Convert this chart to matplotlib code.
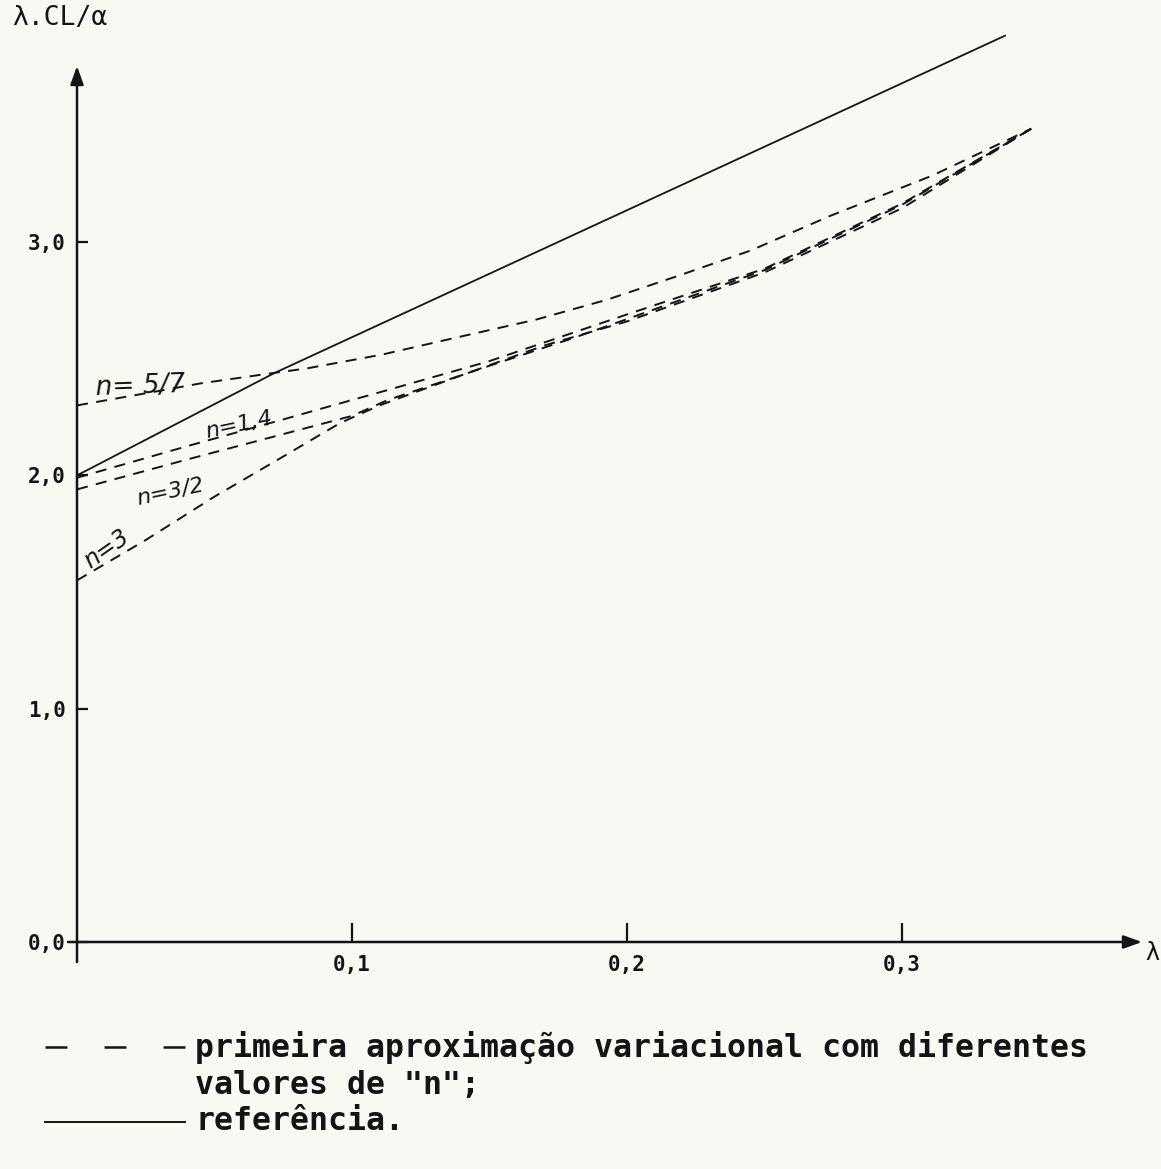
import matplotlib
matplotlib.use("Agg")
import matplotlib.pyplot as plt
from matplotlib.lines import Line2D

plt.rcParams['lines.scale_dashes'] = False

# ---------------- data ----------------
ref_x = [0.0, 0.072, 0.3375]
ref_y = [2.00, 2.44, 3.885]

n57_x = [0.0, 0.0265, 0.0447, 0.072, 0.0833, 0.111, 0.138, 0.167, 0.193, 0.219, 0.245, 0.274, 0.311, 0.347]
n57_y = [2.30, 2.355, 2.394, 2.44, 2.458, 2.518, 2.591, 2.668, 2.754, 2.857, 2.964, 3.113, 3.285, 3.486]

n14_x = [0.0, 0.04, 0.075, 0.09, 0.113, 0.15, 0.18, 0.20, 0.25, 0.30, 0.347]
n14_y = [1.99, 2.125, 2.24, 2.29, 2.366, 2.49, 2.61, 2.69, 2.886, 3.165, 3.486]

n32_x = [0.0, 0.04, 0.075, 0.10, 0.113, 0.15, 0.18, 0.20, 0.25, 0.30, 0.347]
n32_y = [1.94, 2.068, 2.177, 2.255, 2.323, 2.47, 2.587, 2.67, 2.88, 3.16, 3.486]

n3_x = [0.0, 0.025, 0.05, 0.075, 0.0956, 0.11, 0.14, 0.17, 0.20, 0.25, 0.30, 0.347]
n3_y = [1.55, 1.723, 1.909, 2.081, 2.224, 2.30, 2.43, 2.557, 2.66, 2.87, 3.145, 3.486]

x_ticks = [0.1, 0.2, 0.3]
x_tick_labels = ["0,1", "0,2", "0,3"]
y_ticks = [0.0, 1.0, 2.0, 3.0]
y_tick_labels = ["0,0", "1,0", "2,0", "3,0"]

curve_labels = ["n= 5/7", "n=1,4", "n=3/2", "n=3"]
y_label = "λ.CL/α"
x_label = "λ"
legend_dashed = ["primeira aproximação variacional com diferentes", 'valores de "n";']
legend_solid = "referência."

# ---------------- figure ----------------
W, H = 1161, 1169
bg = '#f8f9f3'
ink = '#141414'
fig = plt.figure(figsize=(W / 100, H / 100), dpi=100, facecolor=bg)

def fx(px):
    return px / W

def fy(py):
    return 1 - py / H

left_px, right_px, bottom_px, top_px = 77, 1145, 962, 60
ax = fig.add_axes([fx(left_px), fy(bottom_px), fx(right_px) - fx(left_px), fy(top_px) - fy(bottom_px)])
ax.set_facecolor(bg)
xpu = 2750.0
ypu = 233.3
ax.set_xlim(0, (right_px - left_px) / xpu)
ax.set_ylim(-(bottom_px - 942) / ypu, (942 - top_px) / ypu)

for s in ['top', 'right', 'left', 'bottom']:
    ax.spines[s].set_visible(False)
ax.spines['bottom'].set_position(('data', 0))
ax.spines['left'].set_position(('data', 0))

# axes with arrows
ax.annotate('', xy=(0, (942 - 66) / ypu), xytext=(0, -(962 - 942) / ypu),
            arrowprops=dict(arrowstyle='-|>,head_length=0.5,head_width=0.18', lw=1.8,
                            color=ink, mutation_scale=22, shrinkA=0, shrinkB=0),
            annotation_clip=False)
ax.annotate('', xy=((1142 - 77) / xpu, 0), xytext=(-(77 - 68) / xpu, 0),
            arrowprops=dict(arrowstyle='-|>,head_length=0.5,head_width=0.18', lw=1.8,
                            color=ink, mutation_scale=22, shrinkA=0, shrinkB=0),
            annotation_clip=False)

ax.set_xticks(x_ticks)
ax.set_xticklabels(x_tick_labels)
ax.set_yticks(y_ticks)
ax.set_yticklabels(y_tick_labels)
ax.tick_params(axis='x', direction='in', length=14, width=1.6, color=ink, pad=9)
ax.tick_params(axis='y', direction='in', length=8, width=1.6, color=ink, pad=8)
for lab in ax.get_xticklabels() + ax.get_yticklabels():
    lab.set_fontfamily('DejaVu Sans Mono')
    lab.set_fontweight('bold')
    lab.set_fontsize(15)
    lab.set_color(ink)

# curves
ax.plot(ref_x, ref_y, color=ink, lw=1.3, clip_on=False)
for xs, ys in [(n57_x, n57_y), (n14_x, n14_y), (n32_x, n32_y), (n3_x, n3_y)]:
    ax.plot(xs, ys, color=ink, lw=1.4, dashes=(8, 6), clip_on=False)

# handwritten curve labels (pixel centre -> data coords)
lab_px = [(140, 386, 2, 19), (239, 425, 12, 16), (170, 492, 12, 16), (107, 549, 35, 17)]
for txt, (px, py, rot, fs) in zip(curve_labels, lab_px):
    ax.text((px - 77) / xpu, (942 - py) / ypu, txt, fontsize=fs, style='italic',
            family='DejaVu Sans', color=ink, ha='center', va='center',
            rotation=rot, rotation_mode='anchor')

# axis labels
fig.text(fx(12), fy(18), y_label, fontsize=19, family='DejaVu Sans Mono',
         color=ink, ha='left', va='center')
fig.text(fx(1152), fy(953), x_label, fontsize=17, family='DejaVu Sans',
         color=ink, ha='center', va='center')

# legend (drawn manually)
fig.add_artist(Line2D([fx(45), fx(185)], [fy(1047), fy(1047)], color=ink, lw=1.8,
                      dashes=(15.8, 26.7), transform=fig.transFigure))
fig.add_artist(Line2D([fx(45), fx(185)], [fy(1122), fy(1122)], color=ink, lw=1.4,
                      transform=fig.transFigure))
tkw = dict(fontsize=22.7, family='DejaVu Sans Mono', fontweight='bold', color=ink,
           ha='left', va='center')
fig.text(fx(195), fy(1047), legend_dashed[0], **tkw)
fig.text(fx(195), fy(1085), legend_dashed[1], **tkw)
fig.text(fx(195), fy(1122), legend_solid, **tkw)

fig.savefig('out.png', dpi=100, facecolor=bg)
